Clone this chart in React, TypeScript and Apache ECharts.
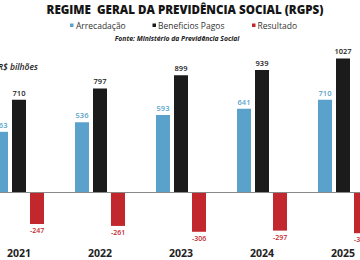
import React, { useEffect, useRef } from "react";
import * as echarts from "echarts";

const years = ["2021", "2022", "2023", "2024", "2025"];
const arrecadacao = [463, 536, 593, 641, 710];
const beneficios = [710, 797, 899, 939, 1027];
const resultado = [-247, -261, -306, -297, -317];

const BLUE = "#5aa2cb";
const BLACK = "#1b1b1b";
const RED = "#c1272d";
const FONT = "'Open Sans', sans-serif";

export default function App() {
  const ref = useRef<HTMLDivElement>(null);
  useEffect(() => {
    document.body.style.margin = "0";
    const chart = echarts.init(ref.current!, null, { renderer: "svg" });
    const labelBase = { show: true, fontFamily: FONT, fontSize: 7.5, fontWeight: 600 as const, distance: 3 };
    const legendText = { fontFamily: FONT, fontSize: 8.5, fill: "#333", verticalAlign: "middle" as const };
    chart.setOption({
      animation: false,
      backgroundColor: "#ffffff",
      grid: { left: -21.5, right: -23.5, top: 49, bottom: 23.8, outerBoundsMode: "none", containLabel: false },
      xAxis: {
        type: "category",
        data: years,
        axisLine: { show: false, onZero: false },
        axisTick: { show: false },
        axisLabel: { color: "#222", fontFamily: FONT, fontWeight: 700, fontSize: 10.5, margin: 11 },
      },
      yAxis: {
        type: "value",
        min: -340,
        max: 1100,
        show: false,
        splitLine: { show: false },
      },
      graphic: [
        {
          type: "text",
          x: 185,
          y: 9.5,
          style: {
            text: "REGIME  GERAL DA PREVIDÊNCIA SOCIAL (RGPS)",
            fontFamily: FONT,
            fontWeight: 800,
            fontSize: 11.6,
            fill: "#151515",
            align: "center",
            verticalAlign: "middle",
          },
        },
        { type: "rect", shape: { x: 70, y: 23.5, width: 3.5, height: 3.5 }, style: { fill: BLUE } },
        { type: "text", x: 76, y: 25.5, style: { text: "Arrecadação", ...legendText } },
        { type: "rect", shape: { x: 152.5, y: 23.5, width: 3.5, height: 3.5 }, style: { fill: BLACK } },
        { type: "text", x: 158, y: 25.5, style: { text: "Beneficios Pagos", ...legendText } },
        { type: "rect", shape: { x: 252, y: 23.5, width: 3.5, height: 3.5 }, style: { fill: RED } },
        { type: "text", x: 257.5, y: 25.5, style: { text: "Resultado", ...legendText } },
        {
          type: "text",
          x: 177,
          y: 38,
          style: {
            text: "Fonte: Ministério da Previdência Social",
            fontFamily: FONT,
            fontStyle: "italic",
            fontWeight: 700,
            fontSize: 6.8,
            fill: "#222",
            align: "center",
            verticalAlign: "middle",
          },
        },
        {
          type: "text",
          x: -2,
          y: 66,
          style: {
            text: "R$ bilhões",
            fontFamily: FONT,
            fontStyle: "italic",
            fontWeight: 600,
            fontSize: 8.5,
            fill: "#222",
            verticalAlign: "middle",
          },
        },
      ],
      series: [
        {
          name: "Arrecadação",
          type: "bar",
          data: arrecadacao,
          barWidth: 14,
          barGap: "28.6%",
          itemStyle: { color: BLUE },
          label: { ...labelBase, position: "top", color: BLUE },
        },
        {
          name: "Beneficios Pagos",
          type: "bar",
          data: beneficios,
          barWidth: 14,
          barGap: "28.6%",
          itemStyle: { color: BLACK },
          label: { ...labelBase, position: "top", color: "#222" },
          markLine: {
            silent: true,
            symbol: "none",
            label: { show: false },
            lineStyle: { color: "#8a8a8a", width: 1, type: "solid" },
            data: [{ yAxis: 0 }],
          },
        },
        {
          name: "Resultado",
          type: "bar",
          data: resultado,
          barWidth: 14,
          barGap: "28.6%",
          itemStyle: { color: RED },
          label: { ...labelBase, position: "bottom", color: RED, fontSize: 7 },
        },
      ],
    });
    return () => chart.dispose();
  }, []);
  return <div ref={ref} style={{ width: 360, height: 260 }} />;
}
